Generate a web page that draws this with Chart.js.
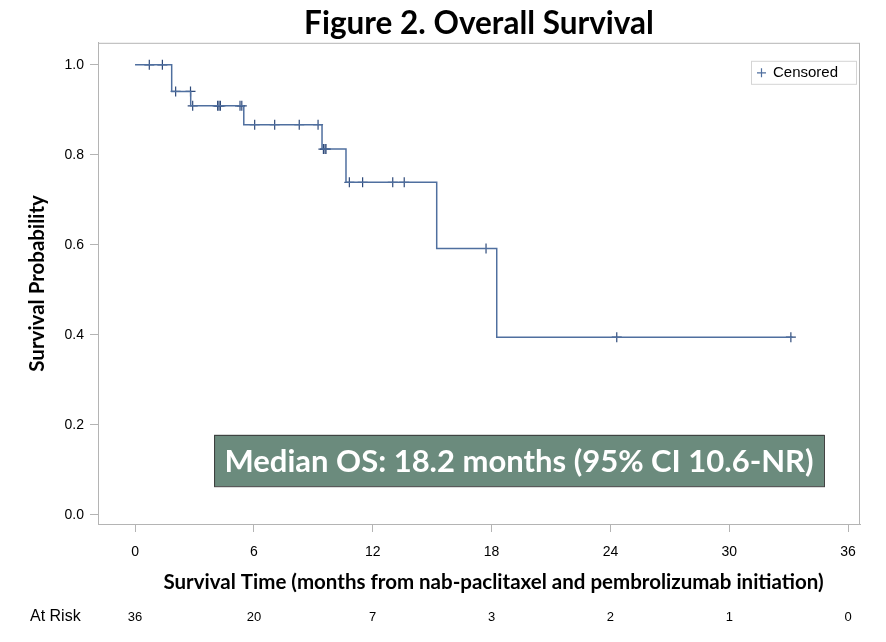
<!DOCTYPE html>
<html>
<head>
<meta charset="utf-8">
<script src="https://cdn.jsdelivr.net/npm/chart.js@4.4.0/dist/chart.umd.min.js"></script>
<style>
  html, body { margin: 0; padding: 0; background: #fff; }
</style>
</head>
<body>
<canvas id="osChart" width="886" height="642"></canvas>
<script>
// Kaplan-Meier step points (time in months, survival after the event)
const curveTimes = [0, 1.85, 2.81, 5.49, 9.44, 10.65, 15.23, 18.26, 33.2];
const curveSurv  = [1.0, 0.941, 0.909, 0.867, 0.813, 0.739, 0.592, 0.395, 0.395];
// censored patients
const censoredTimes = [0.72, 1.38, 2.05, 2.80, 2.91, 4.17, 4.24, 4.31, 5.30, 5.39, 6.04, 7.05, 8.29, 9.24,
                       9.51, 9.59, 9.64, 10.82, 11.49, 13.01, 13.59, 17.72, 24.32, 33.11];
const xTicks = [0, 6, 12, 18, 24, 30, 36];
const yTicks = [0.0, 0.2, 0.4, 0.6, 0.8, 1.0];
const atRisk = [36, 20, 7, 3, 2, 1, 0];
const medianText = 'Median OS: 18.2 months (95% CI 10.6-NR)';
const xTitle = 'Survival Time (months from nab-paclitaxel and pembrolizumab initiation)';

function survAt(t) {
    let s = 1;
    for (let i = 0; i < curveTimes.length; i++) {
        if (curveTimes[i] < t) s = curveSurv[i];
    }
    return s;
}

const frameColor = '#b4b4b4';
const tickFont = { family: 'Liberation Sans, Arial, sans-serif', size: 14 };

const extras = {
    id: 'extras',
    afterDraw(chart) {
        const { ctx, chartArea, scales } = chart;
        ctx.save();
        // frame
        ctx.strokeStyle = frameColor;
        ctx.lineWidth = 1;
        ctx.strokeRect(chartArea.left + 0.5, chartArea.top + 0.5,
            chartArea.right - chartArea.left - 1, chartArea.bottom - chartArea.top);

        // legend box (top right inside plot)
        const lx = chartArea.right - 109, ly = chartArea.top + 18;
        ctx.strokeStyle = '#d4d4d4';
        ctx.strokeRect(lx + 0.5, ly + 0.5, 105, 23);
        ctx.strokeStyle = '#4f6f9f';
        ctx.lineWidth = 1.2;
        ctx.beginPath();
        ctx.moveTo(lx + 6, ly + 12); ctx.lineTo(lx + 15, ly + 12);
        ctx.moveTo(lx + 10.5, ly + 7.5); ctx.lineTo(lx + 10.5, ly + 16.5);
        ctx.stroke();
        ctx.fillStyle = '#000';
        ctx.font = '15px "Liberation Sans", Arial, sans-serif';
        ctx.textAlign = 'left';
        ctx.textBaseline = 'middle';
        ctx.fillText('Censored', lx + 22, ly + 12.5);

        // median annotation box
        const bx0 = scales.x.getPixelForValue(3.99), bx1 = scales.x.getPixelForValue(34.78);
        const by0 = scales.y.getPixelForValue(0.178), by1 = scales.y.getPixelForValue(0.064);
        ctx.fillStyle = '#6b8b7d';
        ctx.fillRect(bx0, by0, bx1 - bx0, by1 - by0);
        ctx.strokeStyle = '#3a3a3a';
        ctx.lineWidth = 1;
        ctx.strokeRect(bx0 + 0.5, by0 + 0.5, bx1 - bx0, by1 - by0);
        ctx.fillStyle = '#fff';
        ctx.font = 'bold 31px Lato, sans-serif';
        ctx.textAlign = 'center';
        ctx.fillText(medianText, (bx0 + bx1) / 2, (by0 + by1) / 2 + 1);

        // x axis title (sits a bit right of the axis centre in the original)
        ctx.fillStyle = '#000';
        ctx.font = 'bold 20.5px Lato, sans-serif';
        ctx.fillText(xTitle, scales.x.getPixelForValue(18.1), 582);

        // at-risk row
        ctx.font = '16px "Liberation Sans", Arial, sans-serif';
        ctx.textAlign = 'left';
        ctx.fillText('At Risk', 30, 617);
        ctx.font = '13px "Liberation Sans", Arial, sans-serif';
        ctx.textAlign = 'center';
        xTicks.forEach((v, i) => {
            ctx.fillText(String(atRisk[i]), scales.x.getPixelForValue(v), 617);
        });
        ctx.restore();
    }
};

const ctx = document.getElementById('osChart').getContext('2d');
const osChart = new Chart(ctx, {
    type: 'scatter',
    data: {
        datasets: [{
            label: 'Survival',
            type: 'line',
            data: curveTimes.map((t, i) => ({ x: t, y: curveSurv[i] })),
            stepped: 'before',
            borderColor: '#4f6f9f',
            borderWidth: 1.5,
            pointRadius: 0,
            fill: false
        }, {
            label: 'Censored',
            data: censoredTimes.map(t => ({ x: t, y: survAt(t) })),
            pointStyle: 'cross',
            pointRadius: 5,
            borderColor: '#2e4a7a',
            pointBorderColor: '#2e4a7a',
            pointBorderWidth: 1.2,
            backgroundColor: '#2e4a7a'
        }]
    },
    options: {
        responsive: false,
        animation: false,
        layout: {
            padding: { left: 0, right: 26, top: 0, bottom: 0 }
        },
        scales: {
            x: {
                type: 'linear',
                min: -1.87,
                max: 36.6,
                afterBuildTicks: function (scale) {
                    scale.ticks = xTicks.map(v => ({ value: v }));
                },
                afterFit: function (scale) {
                    scale.height = 118;
                },
                ticks: {
                    font: tickFont,
                    color: '#000',
                    padding: 12,
                    maxRotation: 0,
                    callback: v => String(v)
                },
                grid: {
                    drawOnChartArea: false,
                    tickLength: 8,
                    color: frameColor
                },
                border: { color: frameColor }
            },
            y: {
                min: -0.02,
                max: 1.049,
                afterBuildTicks: function (scale) {
                    scale.ticks = yTicks.map(v => ({ value: v }));
                },
                afterFit: function (scale) {
                    scale.width = 98;
                },
                ticks: {
                    font: tickFont,
                    color: '#000',
                    padding: 6,
                    callback: v => v.toFixed(1)
                },
                grid: {
                    drawOnChartArea: false,
                    tickLength: 8,
                    color: frameColor
                },
                border: { color: frameColor },
                title: {
                    display: true,
                    text: 'Survival Probability',
                    font: { family: 'Lato, sans-serif', size: 20.5, weight: 'bold' },
                    color: '#000',
                    padding: { top: 25, bottom: 4 }
                }
            }
        },
        plugins: {
            legend: { display: false },
            tooltip: { enabled: false },
            title: {
                display: true,
                fullSize: false,
                text: 'Figure 2. Overall Survival',
                font: { family: 'Lato, sans-serif', size: 31.5, weight: 'bold' },
                color: '#000',
                padding: { top: 5, bottom: 0 }
            }
        }
    },
    plugins: [extras]
});
</script>
</body>
</html>
